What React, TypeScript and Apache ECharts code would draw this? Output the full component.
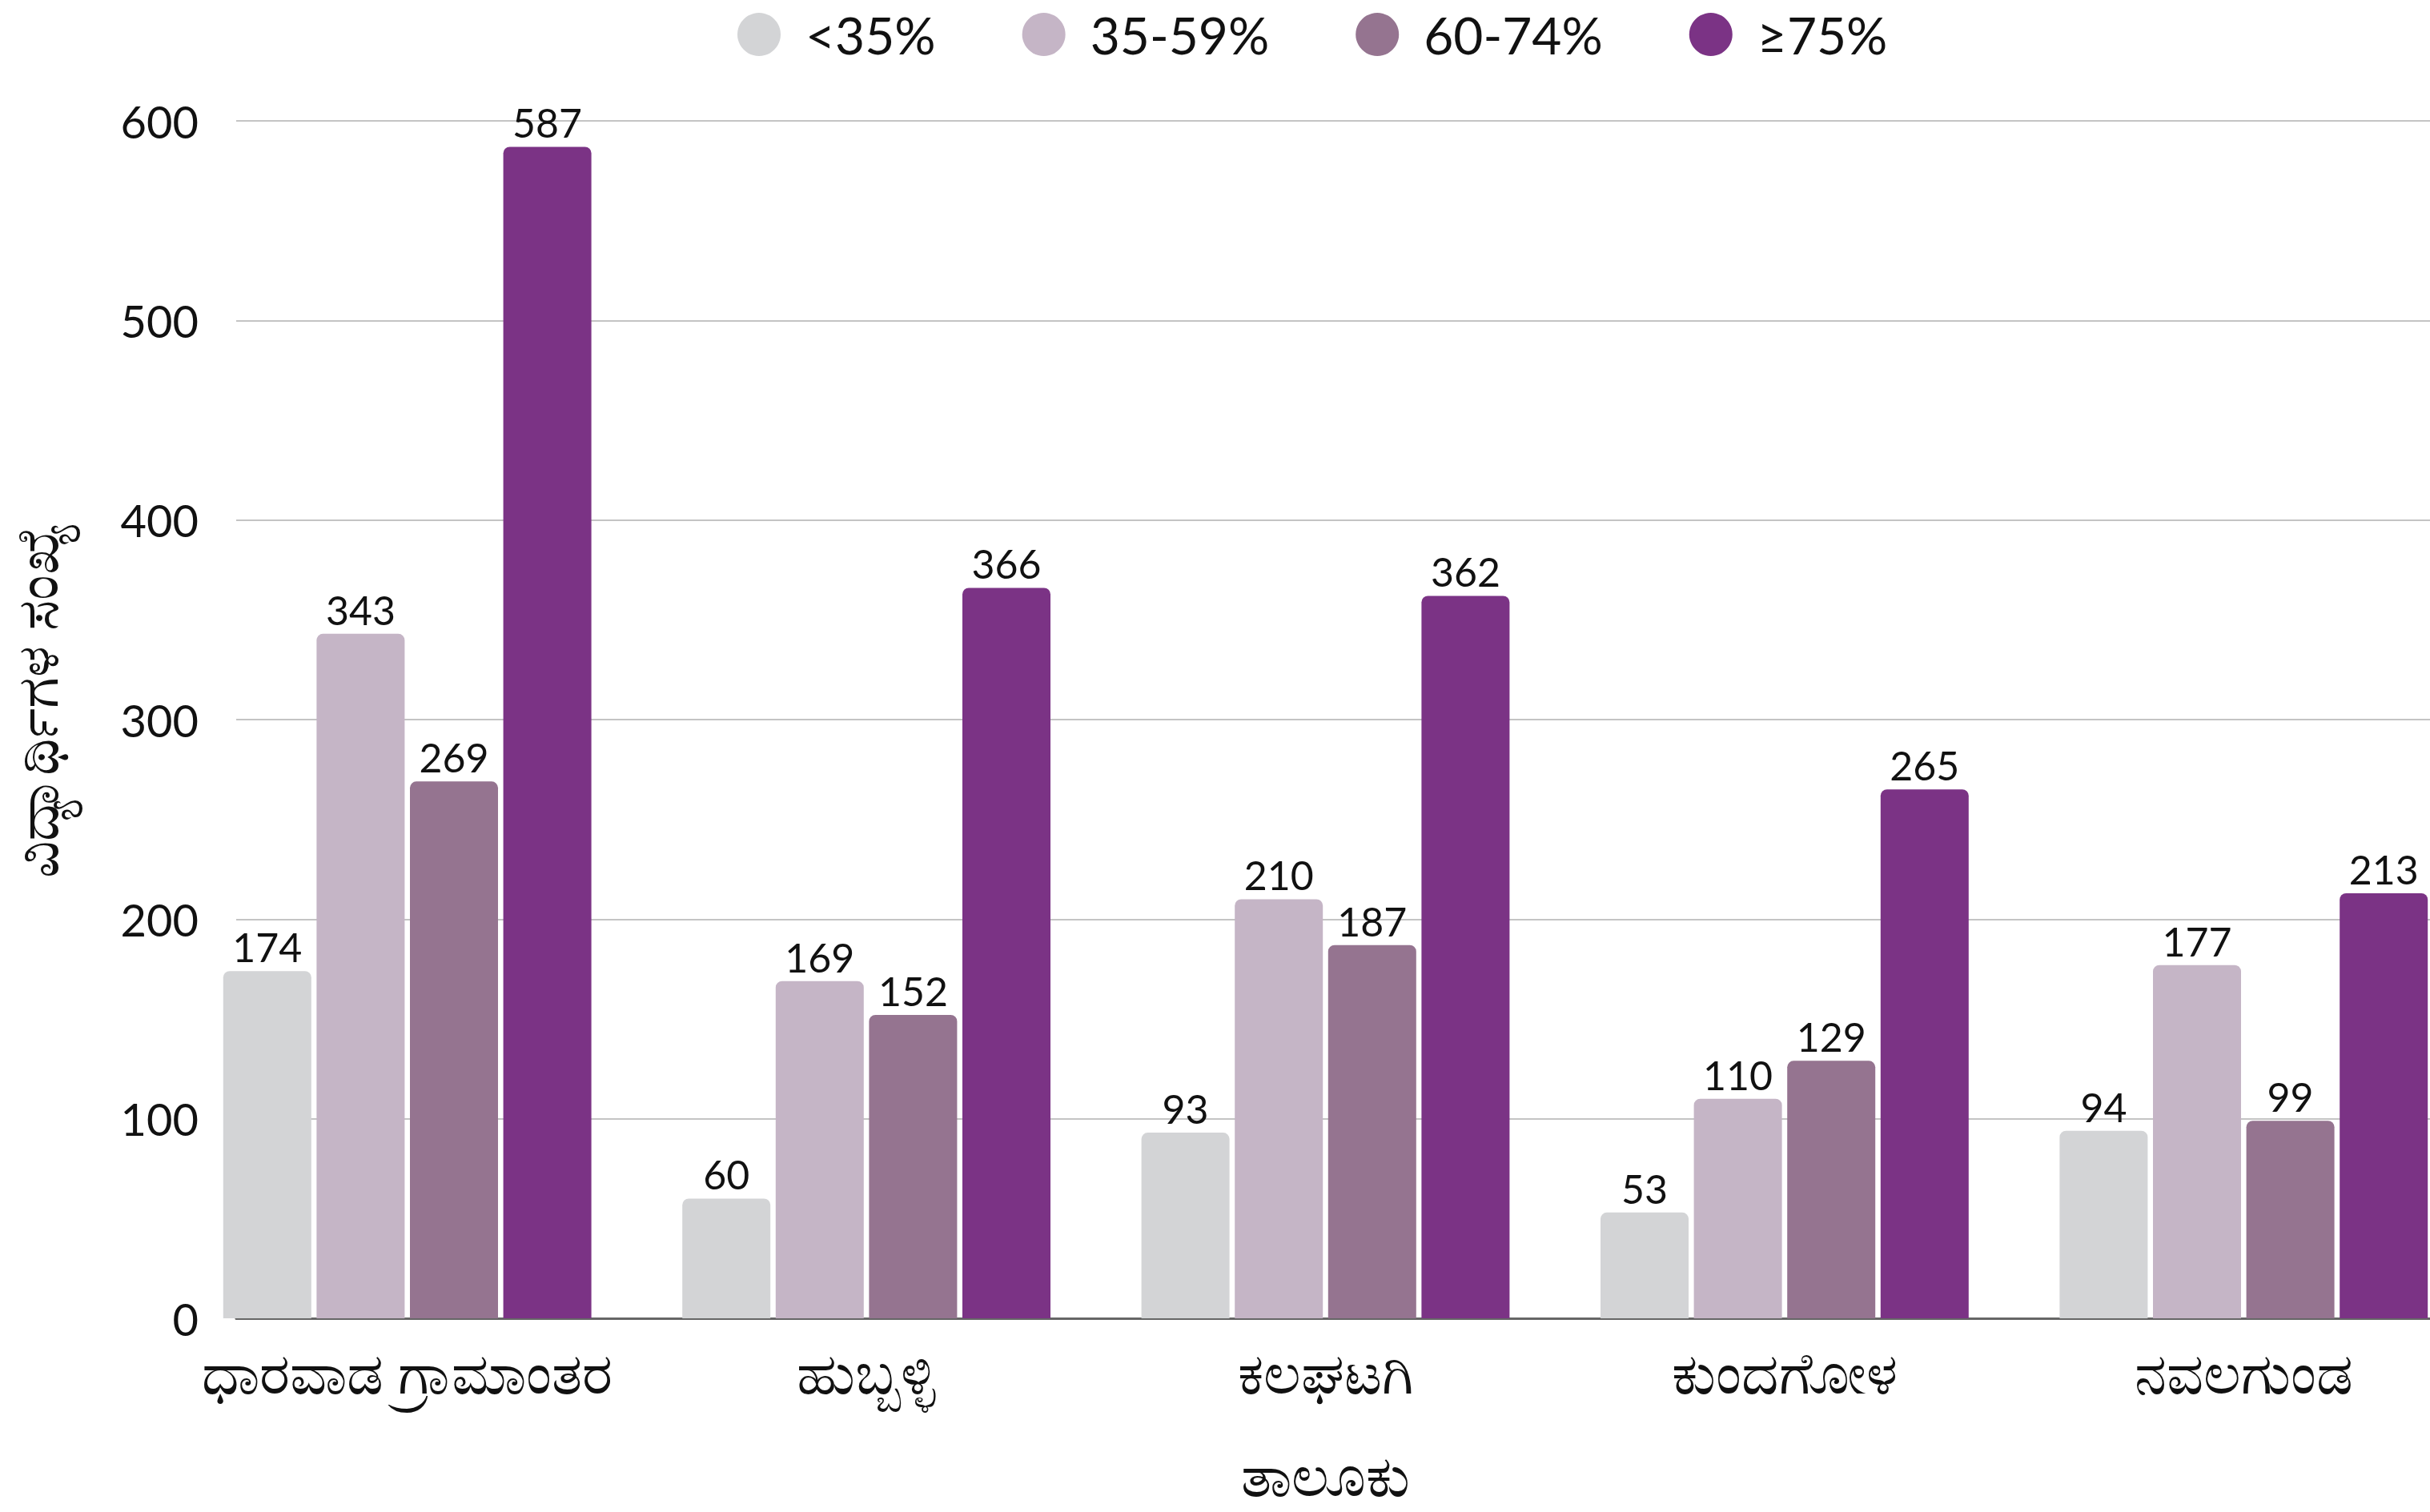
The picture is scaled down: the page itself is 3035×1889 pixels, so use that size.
import React, { useEffect, useRef } from "react";
import * as echarts from "echarts";

const categories = ["ಧಾರವಾಡ ಗ್ರಾಮಾಂತರ", "ಹುಬ್ಬಳ್ಳಿ", "ಕಲಘಟಗಿ", "ಕುಂದಗೋಳ", "ನವಲಗುಂಡ"];
const seriesNames = ["<35%", "35-59%", "60-74%", "≥75%"];
const below35 = [174, 60, 93, 53, 94];
const from35to59 = [343, 169, 210, 110, 177];
const from60to74 = [269, 152, 187, 129, 99];
const above75 = [587, 366, 362, 265, 213];
const colors = ["#d3d4d6", "#c5b5c6", "#957490", "#7b3385"];
const yTicks = { min: 0, max: 600, interval: 100 };
const xAxisName = "ತಾಲೂಕು";
const yAxisName = "ವಿದ್ಯಾರ್ಥಿಗಳ ಸಂಖ್ಯೆ";

const FONT = "Lato, 'Noto Sans', 'DejaVu Sans', sans-serif";
const KN_SIZE = 72;

export default function App() {
  const ref = useRef<HTMLDivElement>(null);
  useEffect(() => {
    if (!ref.current) return;
    const chart = echarts.init(ref.current, null, { renderer: "svg" });
    const values = [below35, from35to59, from60to74, above75];
    chart.setOption({
      animation: false,
      backgroundColor: "#ffffff",
      textStyle: { fontFamily: FONT },
      legend: {
        left: 916,
        top: 6,
        icon: "circle",
        itemWidth: 54,
        itemHeight: 54,
        itemGap: 108,
        data: seriesNames,
        textStyle: {
          fontFamily: FONT,
          fontSize: 64,
          color: "#111111",
          padding: [0, 0, 0, 26],
        },
      },
      grid: [
        { left: 279, top: 151, height: 1496, width: 2830, containLabel: false },
        { left: 222, top: 151, height: 1496, width: 2867, containLabel: false },
      ],
      xAxis: [
        {
          gridIndex: 0,
          type: "value",
          min: 0,
          max: 1,
          axisLine: { show: true, lineStyle: { color: "#666666", width: 3 } },
          axisTick: { show: false },
          axisLabel: { show: false },
          splitLine: { show: false },
        },
        {
          gridIndex: 1,
          type: "category",
          data: categories,
          axisLine: { show: false },
          axisTick: { show: false },
          axisLabel: {
            interval: 0,
            margin: 30,
            fontFamily: FONT,
            fontSize: KN_SIZE,
            color: "#111111",
          },
          name: xAxisName,
          nameLocation: "middle",
          nameGap: 158,
          nameTextStyle: { fontFamily: FONT, fontSize: KN_SIZE, color: "#111111" },
        },
      ],
      yAxis: [
        {
          gridIndex: 0,
          type: "value",
          min: yTicks.min,
          max: yTicks.max,
          interval: yTicks.interval,
          axisLine: { show: false },
          axisTick: { show: false },
          axisLabel: {
            margin: 47,
            fontFamily: FONT,
            fontSize: 56,
            color: "#111111",
          },
          splitLine: { show: true, lineStyle: { color: "#c4c4c4", width: 2 } },
          name: yAxisName,
          nameLocation: "middle",
          nameRotate: 90,
          nameGap: 215,
          nameTextStyle: {
            fontFamily: FONT,
            fontSize: KN_SIZE,
            color: "#111111",
            padding: [0, 0, 0, 48],
          },
        },
        {
          gridIndex: 1,
          type: "value",
          min: yTicks.min,
          max: yTicks.max,
          interval: yTicks.interval,
          show: false,
          splitLine: { show: false },
        },
      ],
      series: seriesNames.map((name, i) => ({
        name,
        type: "bar",
        xAxisIndex: 1,
        yAxisIndex: 1,
        data: values[i],
        barWidth: 110,
        barGap: "6%",
        itemStyle: { color: colors[i], borderRadius: [8, 8, 0, 0] },
        label: {
          show: true,
          position: "top",
          distance: 5,
          fontFamily: FONT,
          fontSize: 50,
          color: "#111111",
        },
      })),
    });
    return () => chart.dispose();
  }, []);
  return (
    <div
      style={{
        position: "fixed",
        left: 0,
        top: 0,
        width: 3035,
        height: 1889,
        overflow: "hidden",
        background: "#ffffff",
      }}
    >
      <div ref={ref} style={{ width: 3120, height: 1889 }} />
    </div>
  );
}
